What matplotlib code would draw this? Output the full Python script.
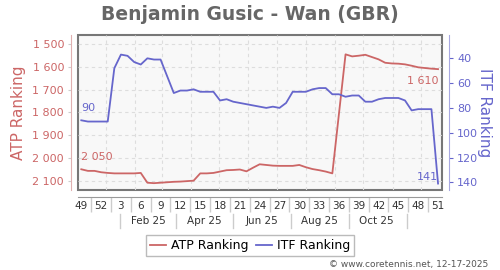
import datetime as dt
import matplotlib
matplotlib.use("Agg")
import matplotlib.pyplot as plt
import matplotlib.transforms as mtransforms

# data (x = week index, 0 = week 49 of 2024)
atp_weeks = list(range(0, 39)) + list(range(40, 55))
atp_rank = [2050, 2057, 2057, 2063, 2066, 2068, 2068, 2068, 2068, 2066,
            2109, 2111, 2109, 2107, 2105, 2104, 2102, 2100, 2068, 2068,
            2066, 2060, 2054, 2053, 2051, 2059, 2043, 2028, 2031, 2034,
            2035, 2035, 2035, 2031, 2041, 2049, 2054, 2060, 2068,
            1545, 1554, 1551, 1547, 1557, 1567, 1582, 1585, 1586, 1589,
            1595, 1602, 1605, 1608, 1610]
itf_weeks = list(range(0, 13)) + list(range(14, 55))
itf_rank = [90, 91, 91, 91, 91, 48, 37, 38, 43, 45, 40, 41, 41,
            68, 66, 66, 65, 67, 67, 67, 74, 73, 75, 76, 77, 78, 79,
            80, 79, 80, 76, 67, 67, 67, 65, 64, 64, 69, 69, 71, 70,
            70, 75, 75, 73, 72, 72, 72, 74, 82, 81, 81, 81, 141]
week_labels = ["49", "52", "3", "6", "9", "12", "15", "18", "21", "24",
               "27", "30", "33", "36", "39", "42", "45", "48", "51"]
month_labels = ["Feb 25", "Apr 25", "Jun 25", "Aug 25", "Oct 25"]
atp_ticks = [1500, 1600, 1700, 1800, 1900, 2000, 2100]
itf_ticks = [40, 60, 80, 100, 120, 140]

RED = "#cc6666"
BLUE = "#6666cc"

start = dt.date(2024, 12, 6)
def wk(d):
    return (d - start).days / 7.0

month_starts = [wk(dt.date(2025, m, 1)) for m in range(1, 13)]
label_pos = [wk(dt.date(2025, m, 15)) for m in (2, 4, 6, 8, 10)]
sep_pos = [wk(dt.date(2025, m, 16)) for m in (1, 3, 5, 7, 9, 11)]

fig = plt.figure(figsize=(5, 2.7), dpi=100)
ax = fig.add_axes([0.156, 0.2963, 0.728, 0.5741])
ax2 = ax.twinx()

ax.patch.set_facecolor("#f8f8f8")
ax.patch.set_edgecolor("#777777")
ax.patch.set_linewidth(1.5)

ax.plot(atp_weeks, atp_rank, color=RED, lw=1.3, label="ATP Ranking")
ax2.plot(itf_weeks, itf_rank, color=BLUE, lw=1.3, label="ITF Ranking")

ax.set_xlim(-0.5, 54.6)
ax.set_ylim(2141, 1460)
ax2.set_ylim(146.2, 21.2)

# grid
ax.set_yticks(atp_ticks)
ax.set_yticklabels([f"{v:,}".replace(",", " ") for v in atp_ticks])
for v in atp_ticks:
    ax.axhline(v, color="#dddddd", lw=0.8, ls=(0, (3, 3)), zorder=0)
for x in month_starts:
    ax.axvline(x, color="#dddddd", lw=0.8, ls=(0, (3, 3)), zorder=0)

ax2.set_yticks(itf_ticks)

# spines
for s in ["top", "right"]:
    ax.spines[s].set_visible(False)
ax.spines["left"].set_position(("outward", 5))
ax.spines["left"].set_color("#e0b0b0")
ax.spines["bottom"].set_position(("outward", 5))
ax.spines["bottom"].set_color("#999999")
for s in ["top", "left", "bottom"]:
    ax2.spines[s].set_visible(False)
ax2.spines["right"].set_position(("outward", 5))
ax2.spines["right"].set_color("#a8a8e0")

ax.tick_params(axis="y", colors="#cccccc", labelcolor=RED, labelsize=8, length=2, pad=3)
ax2.tick_params(axis="y", colors=BLUE, labelcolor=BLUE, labelsize=8, length=3, pad=3)

# x ticks: labels every 3 weeks, separators in between
ax.set_xticks(range(0, 55, 3))
ax.set_xticklabels(week_labels)
ax.set_xticks([x + 1.5 for x in range(0, 54, 3)], minor=True)
ax.tick_params(axis="x", which="major", length=0, labelsize=7.5, labelcolor="#333333", pad=3)
ax.tick_params(axis="x", which="minor", length=11, color="#cccccc", width=1)

ax.set_ylabel("ATP Ranking", color=RED, fontsize=11, labelpad=5)
ax2.set_ylabel("ITF Ranking", color=BLUE, fontsize=11, rotation=270, labelpad=10)

# month row
trans = mtransforms.blended_transform_factory(ax.transData, ax.transAxes)
for x, lab in zip(label_pos, month_labels):
    ax.text(x, -0.198, lab, transform=trans, ha="center", va="center",
            fontsize=7.5, color="#333333", clip_on=False)
for x in sep_pos:
    ax.plot([x, x], [-0.155, -0.245], transform=trans, color="#cccccc",
            lw=1, clip_on=False)

# end labels
ax.annotate("2 050", (atp_weeks[0], atp_rank[0]), xytext=(0, 5),
            textcoords="offset points", color=RED, fontsize=8, ha="left", va="bottom")
ax.annotate("1 610", (atp_weeks[-1], atp_rank[-1]), xytext=(0, -5),
            textcoords="offset points", color=RED, fontsize=8, ha="right", va="top")
ax2.annotate(str(itf_rank[0]), (itf_weeks[0], itf_rank[0]), xytext=(0, 5),
             textcoords="offset points", color=BLUE, fontsize=8, ha="left", va="bottom")
ax2.annotate(str(itf_rank[-1]), (itf_weeks[-1], itf_rank[-1]), xytext=(0, 1),
             textcoords="offset points", color=BLUE, fontsize=8, ha="right", va="bottom")

fig.text(0.5, 0.948, "Benjamin Gusic - Wan (GBR)", ha="center", va="center",
         fontsize=13.5, fontweight="bold", color="#666666")

h1, l1 = ax.get_legend_handles_labels()
h2, l2 = ax2.get_legend_handles_labels()
fig.legend(h1 + h2, l1 + l2, loc="center", bbox_to_anchor=(0.5, 0.09), ncol=2,
           fontsize=9, frameon=True, fancybox=False, edgecolor="#aaaaaa",
           handlelength=1.3, handletextpad=0.4, columnspacing=0.6,
           borderpad=0.3)

fig.text(0.977, 0.022, "\u00a9 www.coretennis.net, 12-17-2025", ha="right", va="center",
         fontsize=6.5, color="#555555")

fig.savefig("out.png", dpi=100)
